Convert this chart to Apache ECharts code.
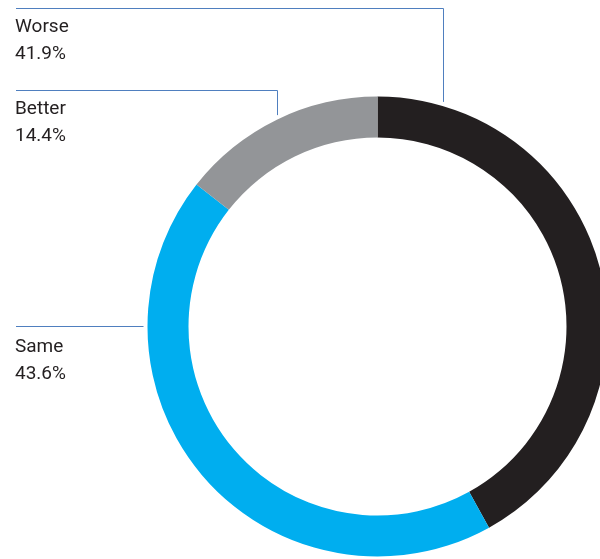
<!DOCTYPE html>
<html>
<head>
<meta charset="utf-8">
<style>
  html, body { margin: 0; padding: 0; background: #ffffff; }
  #chart { width: 600px; height: 559px; }
</style>
<script src="https://cdn.jsdelivr.net/npm/echarts@6/dist/echarts.min.js"></script>
</head>
<body>
<div id="chart"></div>
<script>
// Share of respondents by outlook, drawn clockwise from 12 o'clock
const categories = ['Worse', 'Same', 'Better'];
const shares = [41.9, 43.6, 14.4];
const colors = ['#231f20', '#00aeef', '#939598'];

// Where each callout sits: text block top, the y of its rule, and the
// angle (degrees clockwise from top) where its leader meets the ring
const callouts = {
  Worse:  { top: 14,  ruleY: 8.5,   angle: 16.3 },
  Better: { top: 96,  ruleY: 90.5,  angle: -25.4 },
  Same:   { top: 334, ruleY: 326.5, angle: -90 }
};

const center = [377.5, 326.5];
const rInner = 189;
const rOuter = 230;
const labelX = 15;

const chart = echarts.init(document.getElementById('chart'), null, { renderer: 'canvas' });

chart.setOption({
  animation: false,
  series: [{
    type: 'pie',
    center: center,
    radius: [rInner, rOuter],
    startAngle: 90,
    clockwise: true,
    avoidLabelOverlap: false,
    itemStyle: { borderWidth: 0 },
    emphasis: { disabled: true },
    data: categories.map((c, i) => ({
      name: c,
      value: shares[i],
      itemStyle: { color: colors[i] }
    })),
    label: {
      show: true,
      formatter: p => p.name + '\n' + p.value.toFixed(1) + '%',
      color: '#231f20',
      fontFamily: 'Roboto',
      fontSize: 19,
      lineHeight: 26.5,
      align: 'left',
      verticalAlign: 'top'
    },
    labelLine: {
      show: true,
      lineStyle: { color: '#4f7fbf', width: 1 }
    },
    labelLayout: function (params) {
      const name = categories[params.dataIndex];
      const c = callouts[name];
      const a = c.angle * Math.PI / 180;
      const rx = center[0] + (rOuter + 4) * Math.sin(a);
      const ry = center[1] - (rOuter + 4) * Math.cos(a);
      let pts;
      if (Math.abs(c.angle + 90) < 0.01) {
        pts = [[center[0] - rOuter - 4, c.ruleY], [center[0] - rOuter - 4, c.ruleY], [labelX + 1, c.ruleY]];
      } else {
        pts = [[Math.round(rx) + 0.5, ry], [Math.round(rx) + 0.5, c.ruleY], [labelX + 1, c.ruleY]];
      }
      return {
        x: labelX,
        y: c.top,
        align: 'left',
        verticalAlign: 'top',
        labelLinePoints: pts
      };
    }
  }]
});
</script>
</body>
</html>
